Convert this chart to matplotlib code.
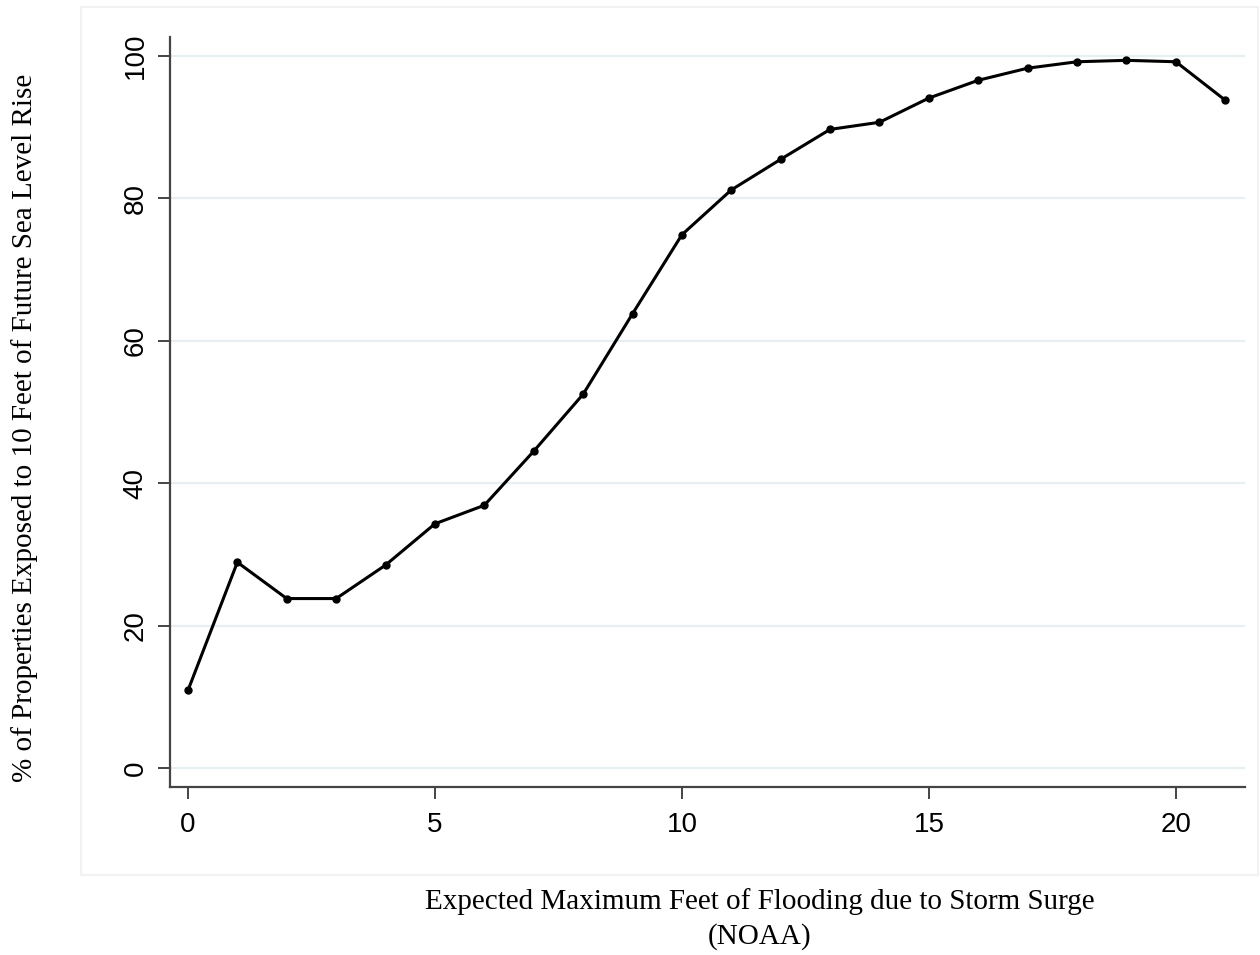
import matplotlib
matplotlib.use('Agg')
import matplotlib.pyplot as plt
from matplotlib.patches import Rectangle

# feet of flooding (storm surge) vs % of properties exposed
surge_feet = [0, 1, 2, 3, 4, 5, 6, 7, 8, 9, 10, 11, 12, 13, 14, 15, 16, 17, 18, 19, 20, 21]
pct_exposed = [10.9, 28.9, 23.8, 23.8, 28.5, 34.3, 36.9, 44.5, 52.5, 63.8, 74.9, 81.2,
               85.5, 89.7, 90.7, 94.1, 96.6, 98.3, 99.2, 99.4, 99.2, 93.8]

x_ticks = [0, 5, 10, 15, 20]
y_ticks = [0, 20, 40, 60, 80, 100]

xlabel_text = 'Expected Maximum Feet of Flooding due to Storm Surge\n(NOAA)'
ylabel_text = '% of Properties Exposed to 10 Feet of Future Sea Level Rise'

fig = plt.figure(figsize=(12.6, 9.55), dpi=100)

# faint outer frame (stata graph region), kept behind the axes
frame = Rectangle((81 / 1260, 1 - 875 / 955), (1258 - 81) / 1260, (875 - 7) / 955,
                  transform=fig.transFigure, facecolor='white',
                  edgecolor='#f2f2f2', linewidth=1.5, zorder=-5)
fig.patches.append(frame)

ax = fig.add_axes([0.1349, 0.1759, 0.8532, 0.7853])
ax.set_facecolor('none')
ax.set_zorder(2)

ax.plot(surge_feet, pct_exposed, color='black', linewidth=2.2,
        marker='o', markersize=5, zorder=3)

ax.set_xlim(-0.364, 21.4)
ax.set_ylim(-2.67, 102.67)

ax.set_xticks(x_ticks)
ax.set_yticks(y_ticks)
ax.set_xticklabels([str(t) for t in x_ticks], fontsize=20, family='Liberation Sans')
ax.set_yticklabels([str(t) for t in y_ticks], fontsize=20, family='Liberation Sans',
                   rotation=90, va='center')

ax.grid(axis='y', color='#e8eff2', linewidth=1.6)
ax.set_axisbelow(True)

for side in ['top', 'right']:
    ax.spines[side].set_visible(False)
for side in ['left', 'bottom']:
    ax.spines[side].set_color('#444444')
    ax.spines[side].set_linewidth(1.6)

ax.tick_params(axis='both', length=8.5, width=1.4, color='#444444')
ax.tick_params(axis='y', pad=7)
ax.tick_params(axis='x', pad=9.5)

fig.text(760 / 1260, 1 - 919 / 955, xlabel_text, ha='center', va='center',
         fontsize=21, family='Liberation Serif', linespacing=1.35)
fig.text(25 / 1260, 1 - 428 / 955, ylabel_text, ha='center', va='center',
         rotation=90, fontsize=21, family='Liberation Serif')

fig.savefig('out.png', dpi=100)
